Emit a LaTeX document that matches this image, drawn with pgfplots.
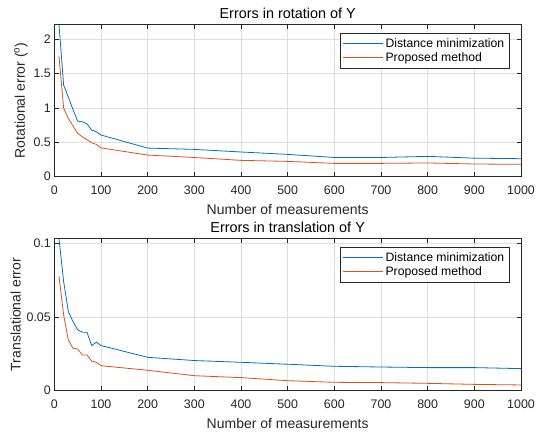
\documentclass[border=0pt]{standalone}
\usepackage{pgfplots}
\pgfplotsset{compat=1.18}
\usepackage{fontspec}
\setmainfont{Liberation Sans}
\definecolor{mblue}{rgb}{0,0.447,0.741}
\definecolor{morange}{rgb}{0.85,0.325,0.098}
\definecolor{axgray}{rgb}{0.15,0.15,0.15}
\definecolor{gridgray}{rgb}{0.87,0.87,0.87}
\pgfplotsset{
  mystyle/.style={
    scale only axis,
    width=466.7bp, height=152.4bp,
    xmin=0, xmax=1000,
    xtick={0,100,...,1000},
    /pgf/number format/assume math mode=true,
    /pgf/number format/1000 sep={},
    tick label style={font=\fontsize{12.4bp}{13bp}\selectfont, color=axgray},
    xticklabel style={yshift=-5.5bp},
    label style={font=\fontsize{14bp}{15bp}\selectfont, color=axgray},
    title style={font=\fontsize{14.4bp}{16bp}\selectfont, color=black,
      at={(axis description cs:0.5,1)}, anchor=base, yshift=-0.5bp},
    axis line style={color=axgray, line width=0.6bp},
    tick style={color=axgray, line width=0.6bp},
    major tick length=4.5bp,
    tick pos=both, tick align=inside,
    grid=major,
    major grid style={color=gridgray, line width=0.6bp},
    legend cell align=left,
    legend style={at={(0.975,0.941)}, anchor=north east, draw=axgray,
      font=\fontsize{12.2bp}{14.5bp}\selectfont, inner sep=2.8bp,
      row sep=0bp, line width=0.6bp},
    legend image code/.code={\draw[#1] (0bp,0bp) -- (40bp,0bp);},
    every axis plot/.append style={line width=0.8bp},
    xlabel={Number of measurements},
    xlabel style={at={(axis description cs:0.5,0)}, anchor=base, yshift=-37.5bp},
  }
}
\begin{document}
\begin{tikzpicture}
\useasboundingbox (0,0) rectangle (536bp,432bp);
\begin{axis}[mystyle,
  at={(54.3bp,255.3bp)}, anchor=south west,
  ymin=0, ymax=2.22,
  ytick={0,0.5,1,1.5,2},
  yticklabels={0,0.5,1,1.5,2},
  ylabel={Rotational error (\textsuperscript{o})},
  ylabel style={yshift=-1bp},
  title={Errors in rotation of Y},
]
\addplot[mblue] coordinates {
(10,2.22) (20,1.335) (30,1.16) (40,0.98) (50,0.81) (60,0.80) (70,0.77) (80,0.68) (90,0.655) (100,0.607)
(200,0.417) (300,0.398) (400,0.36) (500,0.325) (600,0.28) (700,0.28) (800,0.296) (900,0.27) (1000,0.262)};
\addlegendentry{Distance minimization}
\addplot[morange] coordinates {
(10,1.757) (20,1.0) (30,0.85) (40,0.74) (50,0.63) (60,0.58) (70,0.54) (80,0.495) (90,0.47) (100,0.42)
(200,0.315) (300,0.28) (400,0.238) (500,0.223) (600,0.194) (700,0.194) (800,0.2) (900,0.185) (1000,0.18)};
\addlegendentry{Proposed method}
\end{axis}
\begin{axis}[mystyle,
  at={(54.3bp,41.3bp)}, anchor=south west,
  ymin=0, ymax=0.1036,
  ytick={0,0.05,0.1},
  yticklabels={0,0.05,0.1},
  ylabel={Translational error},
  ylabel style={yshift=-1bp},
  title={Errors in translation of Y},
]
\addplot[mblue] coordinates {
(10,0.1036) (20,0.0743) (30,0.0539) (40,0.047) (50,0.0414) (60,0.0398) (70,0.0398) (80,0.0307) (90,0.033) (100,0.0307)
(200,0.0227) (300,0.0205) (400,0.0193) (500,0.018) (600,0.0166) (700,0.0161) (800,0.0157) (900,0.0157) (1000,0.015)};
\addlegendentry{Distance minimization}
\addplot[morange] coordinates {
(10,0.078) (20,0.0516) (30,0.0345) (40,0.0289) (50,0.0284) (60,0.0243) (70,0.0243) (80,0.0202) (90,0.0193) (100,0.017)
(200,0.0139) (300,0.0102) (400,0.0089) (500,0.0068) (600,0.0057) (700,0.0055) (800,0.005) (900,0.0043) (1000,0.0039)};
\addlegendentry{Proposed method}
\end{axis}
\end{tikzpicture}
\end{document}
